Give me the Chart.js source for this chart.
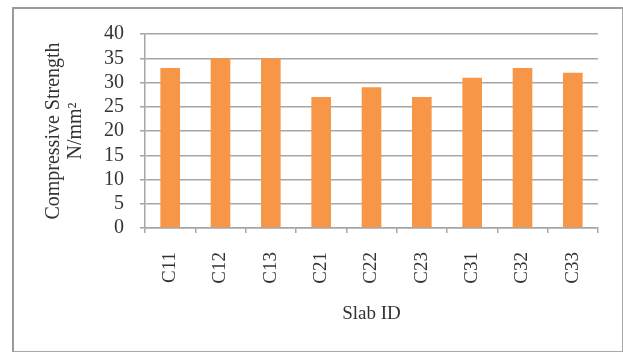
<!DOCTYPE html>
<html>
<head>
<meta charset="utf-8">
<script src="https://cdn.jsdelivr.net/npm/chart.js@4/dist/chart.umd.min.js"></script>
<style>
  html, body { margin: 0; padding: 0; background: #fff; }
  #wrap { position: relative; width: 623px; height: 352px; }
  #frame {
    position: absolute; left: 12px; top: 7px; width: 608px; height: 342px;
    border: 1px solid #a8a8a8; border-left: 2px solid #9a9a9a; border-top: 2px solid #9a9a9a;
    pointer-events: none;
  }
  canvas { position: absolute; left: 0; top: 0; }
</style>
</head>
<body>
<div id="wrap">
  <div id="frame"></div>
  <canvas id="chart" width="623" height="352"></canvas>
</div>
<script>
// Slab identifiers and their measured compressive strength
const slabIds = ['C11', 'C12', 'C13', 'C21', 'C22', 'C23', 'C31', 'C32', 'C33'];
const strength = [33, 35, 35, 27, 29, 27, 31, 33, 32];
const yTitle = ['Compressive Strength', 'N/mm\u00B2'];
const xTitle = 'Slab ID';

const serif = "'Liberation Serif', 'Times New Roman', serif";
const gridGrey = '#a6a6a6';
const textColor = '#333333';

new Chart(document.getElementById('chart'), {
  type: 'bar',
  data: {
    labels: slabIds,
    datasets: [{
      data: strength,
      backgroundColor: '#F79646',
      borderWidth: 0,
      barPercentage: 0.39,
      categoryPercentage: 1.0
    }]
  },
  options: {
    responsive: false,
    animation: false,
    layout: { padding: { top: 34, right: 25, bottom: 0, left: 0 } },
    plugins: { legend: { display: false }, tooltip: { enabled: false } },
    scales: {
      x: {
        grid: { drawOnChartArea: false, drawTicks: true, tickLength: 5, color: gridGrey, lineWidth: 1.5, offset: true },
        border: { color: gridGrey, width: 1.5 },
        ticks: {
          minRotation: 90, maxRotation: 90, padding: 19, autoSkip: false,
          color: textColor, font: { family: serif, size: 19 }
        },
        title: {
          display: true, text: xTitle, color: textColor,
          font: { family: serif, size: 19 }, padding: { top: 0, bottom: 27 }
        },
        afterFit: (s) => { s.height = 124; }
      },
      y: {
        min: 0, max: 40,
        grid: { color: gridGrey, lineWidth: 1.5, tickLength: 5 },
        border: { color: gridGrey, width: 1.5 },
        ticks: {
          stepSize: 5, padding: 16, autoSkip: false,
          color: textColor, font: { family: serif, size: 20 }
        },
        title: {
          display: true, text: yTitle, color: textColor,
          font: { family: serif, size: 20, lineHeight: 1.1 }, padding: { top: 43, bottom: 0 }
        },
        afterFit: (s) => { s.width = 145; }
      }
    }
  }
});
</script>
</body>
</html>
